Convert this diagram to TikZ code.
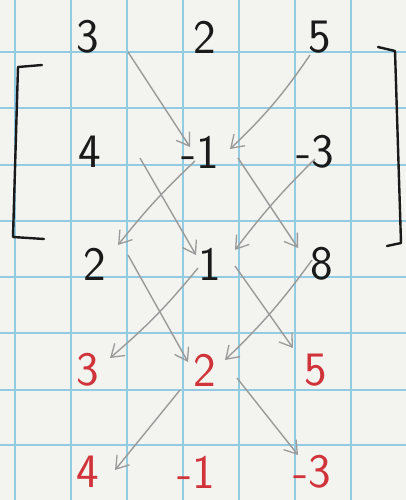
\documentclass[tikz,border=0pt]{standalone}
\usetikzlibrary{arrows.meta,calc}
\definecolor{paper}{HTML}{F3F3EF}
\definecolor{gridblue}{HTML}{92CBE2}
\definecolor{pencil}{HTML}{9A9A9A}
\definecolor{redink}{HTML}{D0333A}
\definecolor{ink}{HTML}{1A1A1A}
\begin{document}
\begin{tikzpicture}[x=1pt,y=-1pt,
  num/.style={font=\sffamily\fontsize{48}{48}\selectfont, text=ink, inner sep=0pt},
  rnum/.style={num, text=redink},
  arr/.style={draw=pencil, line width=1.4pt, -{Straight Barb[length=12pt,width=16pt,line width=1.3pt]}},
  brk/.style={draw=ink, line width=2.4pt, line cap=round, line join=round}]
\useasboundingbox (0,0) rectangle (406,500);
\fill[paper] (0,0) rectangle (406,500);
% grid
\foreach \gx in {15,71,127,183,239,295,351}
  \draw[gridblue, line width=1.2pt] (\gx,0) -- (\gx,500);
\foreach \gy in {52,108,165,221,277,333,390,445}
  \draw[gridblue, line width=1.2pt] (0,\gy) -- (406,\gy);
% numbers
\node[num] (a11) at (88,37) {3};
\node[num] (a12) at (205,37) {2};
\node[num] (a13) at (320,37) {5};
\node[num] (a21) at (90,152) {4};
\node[num] (a22) at (200,152) {-1};
\node[num] (a23) at (315,152) {-3};
\node[num] (a31) at (95,264) {2};
\node[num] (a32) at (210,264) {1};
\node[num] (a33) at (322,264) {8};
\node[rnum] (b11) at (88,370) {3};
\node[rnum] (b12) at (205,370) {2};
\node[rnum] (b13) at (316,370) {5};
\node[rnum] (b21) at (88,472) {4};
\node[rnum] (b22) at (196,472) {-1};
\node[rnum] (b23) at (312,472) {-3};
% brackets
\coordinate (lt) at (42,65);
\coordinate (lb) at (44,239);
\draw[brk] (lt) -- (18,67) -- (13,237) -- (lb);
\coordinate (rt) at (378,47);
\coordinate (rb) at (387,246);
\draw[brk] (rt) -- (395,51) -- (401,243) -- (rb);
% arrows
\draw[arr] ([shift={(40,15)}]a11.center) -- ([shift={(-10,-5)}]a22.center);
\draw[arr] ([shift={(-10,18)}]a13.center) to[bend left=6] ([shift={(30,-3)}]a22.center);
\draw[arr] ([shift={(-5,9)}]a22.center) to[bend right=4] ([shift={(23,-19)}]a31.center);
\draw[arr] ([shift={(50,6)}]a21.center) -- ([shift={(-14,-9)}]a32.center);
\draw[arr] ([shift={(38,6)}]a22.center) -- ([shift={(-24,-16)}]a33.center);
\draw[arr] ([shift={(0,7)}]a23.center) to[bend right=4] ([shift={(25,-14)}]a32.center);
\draw[arr] ([shift={(33,-9)}]a31.center) -- ([shift={(-17,-8)}]b12.center);
\draw[arr] ([shift={(-12,4)}]a32.center) to[bend left=5] ([shift={(22,-12)}]b11.center);
\draw[arr] ([shift={(25,2)}]a32.center) -- ([shift={(-23,-22)}]b13.center);
\draw[arr] ([shift={(-10,-4)}]a33.center) to[bend left=5] ([shift={(20,-10)}]b12.center);
\draw[arr] ([shift={(-25,20)}]b12.center) -- ([shift={(27,-2)}]b21.center);
\draw[arr] ([shift={(32,8)}]b12.center) -- ([shift={(-14,-17)}]b23.center);
\end{tikzpicture}
\end{document}
